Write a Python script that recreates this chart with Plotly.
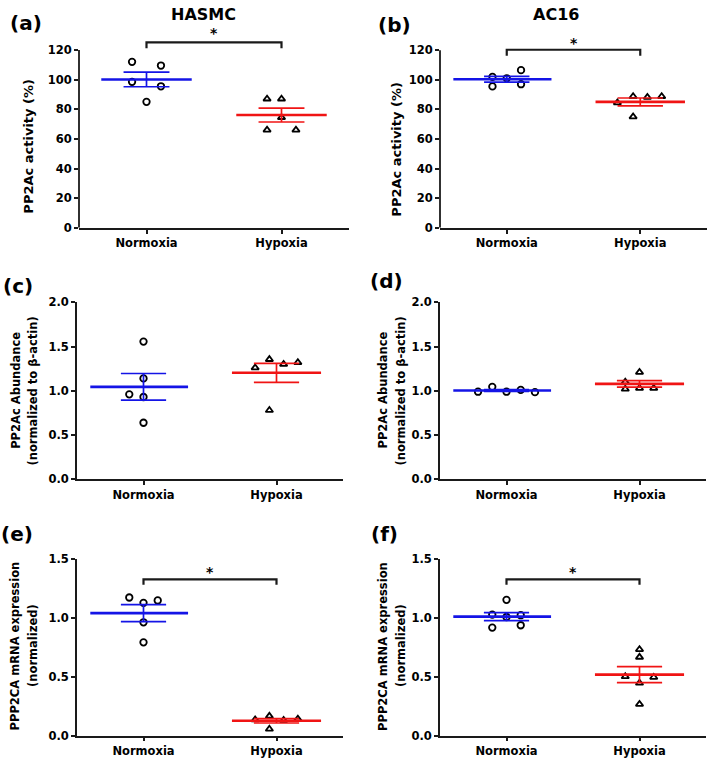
import numpy as np
import plotly.graph_objects as go

W, H = 709, 758

groups = ["Normoxia", "Hypoxia"]

# ---- data ----
# (a) HASMC, PP2Ac activity (%)
a_norm = [112, 109.5, 98.5, 95.5, 85]
a_hyp = [87, 87, 74.5, 66, 66]
# (b) AC16, PP2Ac activity (%)
b_norm = [102, 101, 106.5, 95.5, 97]
b_hyp = [84.5, 88.8, 88.2, 88.8, 75]
# (c) HASMC, PP2Ac abundance
c_norm = [1.555, 1.14, 0.96, 0.93, 0.64]
c_hyp = [1.26, 1.355, 1.30, 1.32, 0.78]
# (d) AC16, PP2Ac abundance
d_norm = [0.99, 1.045, 0.99, 1.01, 0.985]
d_hyp = [1.10, 1.21, 1.02, 1.03, 1.03]
# (e) HASMC, PPP2CA mRNA
e_norm = [1.17, 1.125, 1.145, 0.96, 0.79]
e_hyp = [0.135, 0.165, 0.13, 0.14, 0.055]
# (f) AC16, PPP2CA mRNA
f_norm = [1.15, 1.025, 1.005, 1.02, 0.915, 0.935]
f_hyp = [0.73, 0.665, 0.50, 0.495, 0.445, 0.265]

# scatter column (jitter slot) of each point
a_norm_col = [-1, 1, -1, 1, 0]
a_hyp_col = [-1, 0, 0, -1, 1]
b_norm_col = [-1, 0, 1, -1, 1]
b_hyp_col = [-1.6, -0.5, 0.5, 1.5, -0.5]
c_norm_col = [0, 0, -1, 0, 0]
c_hyp_col = [-1.5, -0.5, 0.5, 1.5, -0.5]
d_norm_col = [-2, -1, 0, 1, 2]
d_hyp_col = [-1, 0, -1, 0, 1]
e_norm_col = [-1, 0, 1, 0, 0]
e_hyp_col = [-1.5, -0.5, 0.5, 1.5, -0.5]
f_norm_col = [0, -1, 0, 1, -1, 1]
f_hyp_col = [0, 0, -1, 1, 0, 0]

# significance bracket: (bracket level, tick drop, star level)
a_sig = (125.2, 4.0, 131.2)
b_sig = (120.3, 4.0, 124.6)
e_sig = (1.324, 0.045, 1.39)
f_sig = (1.324, 0.045, 1.39)

col_titles = ["HASMC", "AC16"]
letters = ["(a)", "(b)", "(c)", "(d)", "(e)", "(f)"]

# ---- styling ----
FONT = "DejaVu Sans"
AX = "#1a1a1a"
BLUE = "#1414e6"
RED = "#f01414"
JIT = 0.107

panels = [
    dict(norm=a_norm, hyp=a_hyp, nc=a_norm_col, hc=a_hyp_col, x0=79, x1=349, yb=228, yt=50.5,
         ymax=120, dtick=20, fmt="d", yext=135, sig=a_sig, left=0.335),
    dict(norm=b_norm, hyp=b_hyp, nc=b_norm_col, hc=b_hyp_col, x0=440, x1=707, yb=228, yt=50.7,
         ymax=120, dtick=20, fmt="d", yext=135, sig=b_sig, left=0.40),
    dict(norm=c_norm, hyp=c_hyp, nc=c_norm_col, hc=c_hyp_col, x0=77, x1=343, yb=479.3, yt=302.3,
         ymax=2.0, dtick=0.5, fmt=".1f", yext=None, sig=None, left=0.40),
    dict(norm=d_norm, hyp=d_hyp, nc=d_norm_col, hc=d_hyp_col, x0=440, x1=706, yb=479.3, yt=302.3,
         ymax=2.0, dtick=0.5, fmt=".1f", yext=None, sig=None, left=0.40),
    dict(norm=e_norm, hyp=e_hyp, nc=e_norm_col, hc=e_hyp_col, x0=77, x1=343, yb=735, yt=558.3,
         ymax=1.5, dtick=0.5, fmt=".1f", yext=None, sig=e_sig, left=0.40),
    dict(norm=f_norm, hyp=f_hyp, nc=f_norm_col, hc=f_hyp_col, x0=440, x1=706, yb=735, yt=558.3,
         ymax=1.5, dtick=0.5, fmt=".1f", yext=None, sig=f_sig, left=0.40),
]

# the page is photographed with a slight vertical squeeze about its middle;
# lay out in target-pixel terms and pre-compensate.
SQ = 0.98
MID = 379.0


def px(xp):
    return xp / W


def py(yp):
    page = MID + (yp - MID) / SQ
    return 1 - page / H


fig = go.Figure()
layout = dict(width=W, height=H, margin=dict(l=0, r=0, t=0, b=0),
              paper_bgcolor="white", plot_bgcolor="white", showlegend=False,
              font=dict(family=FONT, color="black"))
shapes = []
annotations = []

for i, p in enumerate(panels):
    n = i + 1
    xs = "" if n == 1 else str(n)
    xa, ya = "x" + xs, "y" + xs
    ytop_range = p["yext"] if p["yext"] else p["ymax"]
    top_px = p["yb"] - (p["yb"] - p["yt"]) * ytop_range / p["ymax"]

    layout["xaxis" + xs] = dict(
        domain=[px(p["x0"]), px(p["x1"])], anchor=ya, range=[-0.5, 1.5],
        tickvals=[0, 1], ticktext=groups, ticks="outside", ticklen=4, tickwidth=1.8,
        tickcolor=AX, showline=True, linewidth=1.8, linecolor=AX, showgrid=False,
        zeroline=False, tickfont=dict(family=FONT, size=11.5, weight="bold", color="black"),
        fixedrange=True)
    tv = list(np.round(np.arange(0, p["ymax"] + p["dtick"] / 2, p["dtick"]), 3))
    layout["yaxis" + xs] = dict(
        domain=[py(p["yb"]), py(top_px)], anchor=xa, range=[0, ytop_range],
        tickvals=tv, tickformat=p["fmt"], ticks="outside", ticklen=4, tickwidth=1.8,
        tickcolor=AX, showline=p["yext"] is None, linewidth=1.8, linecolor=AX,
        showgrid=False, zeroline=False,
        tickfont=dict(family=FONT, size=11.5, weight="bold", color="black"), fixedrange=True)
    if p["yext"]:
        shapes.append(dict(type="line", xref=xa + " domain", yref=ya, x0=0, x1=0,
                           y0=0, y1=p["ymax"], line=dict(color=AX, width=1.8)))

    for gi, (vals, cols, sym, colr) in enumerate([
            (p["norm"], p["nc"], "circle-open", BLUE),
            (p["hyp"], p["hc"], "triangle-up-open", RED)]):
        v = np.array(vals, dtype=float)
        x = gi + np.array(cols, dtype=float) * JIT
        fig.add_trace(go.Scatter(x=x, y=v, mode="markers", xaxis=xa, yaxis=ya,
                                 marker=dict(symbol=sym, size=6.5, color="black",
                                             line=dict(width=1.8, color="black")),
                                 hoverinfo="skip"))
        m = v.mean()
        s = v.std(ddof=1) / np.sqrt(len(v))
        cap = 0.17
        fig.add_trace(go.Scatter(
            x=[gi - cap, gi + cap, None, gi, gi, None, gi - cap, gi + cap],
            y=[m + s, m + s, None, m + s, m - s, None, m - s, m - s],
            mode="lines", xaxis=xa, yaxis=ya, line=dict(color=colr, width=1.7),
            hoverinfo="skip"))
        lw = p["left"] if gi == 0 else 0.335
        fig.add_trace(go.Scatter(x=[gi - lw, gi + 0.335], y=[m, m], mode="lines",
                                 xaxis=xa, yaxis=ya, line=dict(color=colr, width=2.6),
                                 hoverinfo="skip"))

    if p["sig"]:
        lvl, drop, star = p["sig"]
        fig.add_trace(go.Scatter(x=[0, 0, 1, 1], y=[lvl - drop, lvl, lvl, lvl - drop],
                                 mode="lines", xaxis=xa, yaxis=ya,
                                 line=dict(color=AX, width=2.2), hoverinfo="skip"))
        annotations.append(dict(text="*", xref=xa, yref=ya, x=0.5, y=star, showarrow=False,
                                xanchor="center", yanchor="middle",
                                font=dict(family=FONT, size=14, weight="bold", color="black")))

# column titles
for t, cx in zip(col_titles, [203, 555.7]):
    annotations.append(dict(text=t, xref="paper", yref="paper", x=px(cx), y=1, yshift=4,
                            showarrow=False, xanchor="center", yanchor="top",
                            font=dict(family=FONT, size=16, weight="bold", color="black")))

# panel letters
for t, (cx, cy) in zip(letters, [(26, 24), (394, 26), (17.5, 286), (386, 281),
                                  (16.7, 534), (384, 534)]):
    annotations.append(dict(text=t, xref="paper", yref="paper", x=px(cx), y=py(cy),
                            showarrow=False, xanchor="center", yanchor="middle",
                            font=dict(family=FONT, size=20, weight="bold", color="black")))

# y-axis titles
ytitles = [
    ("PP2Ac activity (%)", 29, 147, 13),
    ("PP2Ac activity (%)", 397, 150, 13),
    ("PP2Ac Abundance", 15.8, 390, 11.5),
    ("(normalized to β-actin)", 33.5, 391, 11.5),
    ("PP2Ac Abundance", 383.5, 390, 11.5),
    ("(normalized to β-actin)", 401.5, 391, 11.5),
    ("PPP2CA mRNA expression", 15, 646, 11.5),
    ("(normalized)", 33.5, 645, 11.5),
    ("PPP2CA mRNA expression", 383.5, 646, 11.5),
    ("(normalized)", 401.5, 645, 11.5),
]
for t, cx, cy, fs in ytitles:
    annotations.append(dict(text=t, xref="paper", yref="paper", x=px(cx), y=py(cy),
                            showarrow=False, xanchor="center", yanchor="middle", textangle=-90,
                            font=dict(family=FONT, size=fs, weight="bold", color="black")))

layout["shapes"] = shapes
layout["annotations"] = annotations
fig.update_layout(**layout)
fig.write_html("out.html", config=dict(displayModeBar=False),
               post_script="document.body.style.margin='0';"
                           "document.body.style.overflow='hidden';")
